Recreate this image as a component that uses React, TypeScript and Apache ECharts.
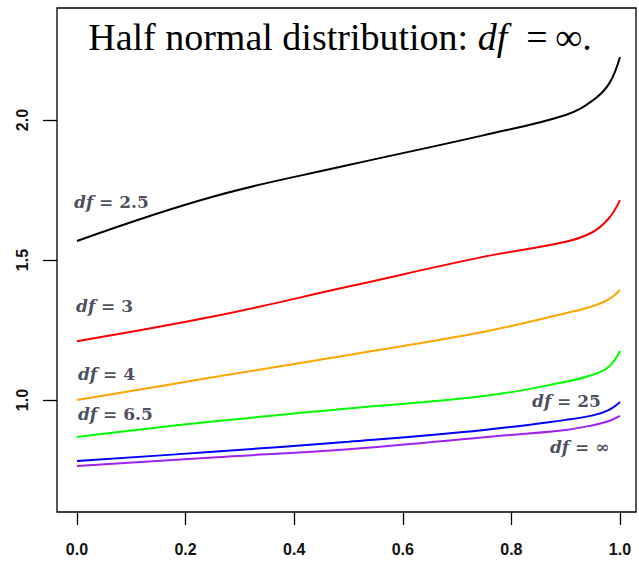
import React, { useEffect, useRef } from "react";
import * as echarts from "echarts";

const xs = [0, 0.25, 0.5, 0.75, 0.9, 0.95, 0.98, 1.0];
const df25 = [1.568, 1.726, 1.839, 1.946, 2.018, 2.07, 2.13, 2.225];
const df3 = [1.21, 1.298, 1.405, 1.512, 1.565, 1.6, 1.65, 1.714];
const df4 = [1.0, 1.081, 1.161, 1.244, 1.31, 1.335, 1.36, 1.393];
const df65 = [0.868, 0.923, 0.97, 1.014, 1.065, 1.09, 1.12, 1.175];
const df25b = [0.782, 0.815, 0.851, 0.893, 0.929, 0.945, 0.965, 0.993];
const dfInf = [0.764, 0.795, 0.824, 0.867, 0.893, 0.91, 0.925, 0.943];

const seriesNames = ["df = 2.5", "df = 3", "df = 4", "df = 6.5", "df = 25", "df = ∞"];
const seriesColors = ["#000000", "#ff0000", "#ffa500", "#00ff00", "#0000ff", "#a020f0"];
const seriesValues = [df25, df3, df4, df65, df25b, dfInf];

const xTicks = [0, 0.2, 0.4, 0.6, 0.8, 1.0];
const yTicks = [1.0, 1.5, 2.0];

const labelTexts = ["2.5", "3", "4", "6.5", "25", "∞"];
const labelX = [-0.0055, -0.0018, 0.0018, 0.0018, 0.838, 0.871];
const labelY = [1.708, 1.337, 1.093, 0.95, 0.9975, 0.832];

const X_MIN = -0.0368;
const X_MAX = 1.0295;
const Y_MIN = 0.6;
const Y_MAX = 2.4;

export default function App() {
  const ref = useRef<HTMLDivElement>(null);
  useEffect(() => {
    if (!ref.current) return;
    const chart = echarts.init(ref.current, null, { renderer: "svg" });
    const lineSeries = seriesValues.map((vals, si) => ({
      type: "line",
      name: seriesNames[si],
      data: xs.map((x, i) => [x, vals[i]]),
      showSymbol: false,
      smooth: 0.4,
      clip: false,
      lineStyle: { color: seriesColors[si], width: 2 },
      itemStyle: { color: seriesColors[si] },
      z: 3,
    }));
    const labelSeries = {
      type: "scatter",
      symbolSize: 0,
      silent: true,
      clip: false,
      data: labelTexts.map((t, i) => ({ value: [labelX[i], labelY[i]], name: t })),
      label: {
        show: true,
        position: [0, 0],
        align: "left",
        verticalAlign: "middle",
        formatter: (p: any) => `{a|df}{b| = ${p.name}}`,
        rich: {
          a: {
            fontFamily: "DejaVu Serif",
            fontStyle: "italic",
            fontWeight: "bold",
            fontSize: 17,
            color: "#1a2033",
          },
          b: {
            fontFamily: "DejaVu Serif",
            fontWeight: "bold",
            fontSize: 17,
            color: "#1a2033",
          },
        },
      },
      z: 5,
    };
    chart.setOption({
      animation: false,
      backgroundColor: "#ffffff",
      grid: {
        left: 57,
        right: 3,
        top: 8,
        bottom: 50,
        show: true,
        borderColor: "#000",
        borderWidth: 1.3,
        backgroundColor: "transparent",
      },
      xAxis: {
        type: "value",
        min: X_MIN,
        max: X_MAX,
        axisLine: { show: false, onZero: false },
        splitLine: { show: false },
        axisTick: {
          show: true,
          inside: false,
          length: 13,
          customValues: xTicks,
          lineStyle: { color: "#000", width: 1.3 },
        },
        axisLabel: {
          customValues: xTicks,
          formatter: (v: number) => v.toFixed(1),
          margin: 29,
          fontFamily: "Liberation Sans",
          fontWeight: "bold",
          fontSize: 16,
          color: "#111",
        },
      },
      yAxis: {
        type: "value",
        min: Y_MIN,
        max: Y_MAX,
        axisLine: { show: false, onZero: false },
        splitLine: { show: false },
        axisTick: {
          show: true,
          inside: false,
          length: 14,
          customValues: yTicks,
          lineStyle: { color: "#000", width: 1.3 },
        },
        axisLabel: {
          customValues: yTicks,
          formatter: (v: number) => v.toFixed(1),
          rotate: 90,
          margin: 27,
          fontFamily: "Liberation Sans",
          fontWeight: "bold",
          fontSize: 16,
          color: "#111",
        },
      },
      graphic: [
        {
          type: "text",
          x: 340,
          y: 37,
          z: 10,
          style: {
            text: "{n|Half normal distribution: }{i|df}{n|\u2002=\u2009∞.}",
            align: "center",
            verticalAlign: "middle",
            rich: {
              n: { fontFamily: "Liberation Serif", fontSize: 38, fill: "#000" },
              i: {
                fontFamily: "Liberation Serif",
                fontStyle: "italic",
                fontSize: 38,
                fill: "#000",
              },
            },
          },
        },
      ],
      series: [...lineSeries, labelSeries],
    });
    return () => chart.dispose();
  }, []);
  return (
    <div
      ref={ref}
      style={{ position: "fixed", left: 0, top: 0, width: 639, height: 562, background: "#fff" }}
    />
  );
}
